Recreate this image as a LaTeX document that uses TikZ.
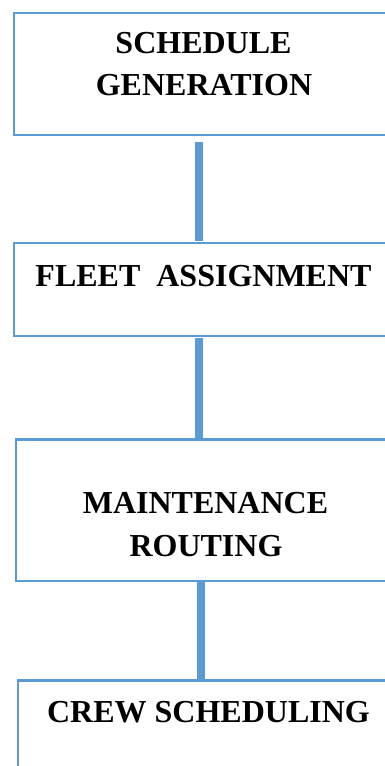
\documentclass[tikz,border=0pt]{standalone}
\usepackage{fontspec}
\setmainfont{Liberation Serif}
\usetikzlibrary{fit}
\definecolor{flowblue}{HTML}{5B9BD5}
\tikzset{
  stagebox/.style={draw=flowblue, line width=2.4pt, inner sep=0pt, outer sep=0pt},
  stagetext/.style={anchor=base, inner sep=0pt, font=\fontsize{32}{38}\selectfont\bfseries},
  link/.style={draw=flowblue, line width=8pt}
}
\begin{document}
\begin{tikzpicture}[x=1pt, y=-1pt]
\useasboundingbox (0,0) rectangle (385,766);
\clip (0,0) rectangle (385,766);
% stage frames (they run past the right and bottom edges)
\coordinate (a1) at (13.8,12.8);  \coordinate (a2) at (400,134.7);
\coordinate (b1) at (13.8,243);   \coordinate (b2) at (400,335.7);
\coordinate (c1) at (15.8,439.3);   \coordinate (c2) at (400,581);
\coordinate (d1) at (17.8,680.3);   \coordinate (d2) at (400,790);
\node[stagebox, fit=(a1)(a2)] (sched) {};
\node[stagebox, fit=(b1)(b2)] (fleet) {};
\node[stagebox, fit=(c1)(c2)] (maint) {};
\node[stagebox, fit=(d1)(d2)] (crew) {};
% stage titles
\node[stagetext] (schedA) at (203.5,53) {SCHEDULE};
\node[stagetext] (schedB) at (204,95) {GENERATION};
\node[stagetext] (fleetT) at (203.5,286) {FLEET\ \ ASSIGNMENT};
\node[stagetext] (maintA) at (205.5,513) {MAINTENANCE};
\node[stagetext] (maintB) at (206,556) {ROUTING};
\node[stagetext] (crewT) at (208.5,722) {CREW SCHEDULING};
% links between stages
\coordinate (l1s) at (199,142); \coordinate (l1e) at (199,241);
\coordinate (l2s) at (199,338); \coordinate (l2e) at (199,438);
\coordinate (l3s) at (200.7,581); \coordinate (l3e) at (200.7,680);
\draw[link] (l1s) -- (l1e);
\draw[link] (l2s) -- (l2e);
\draw[link] (l3s) -- (l3e);
\end{tikzpicture}
\end{document}
